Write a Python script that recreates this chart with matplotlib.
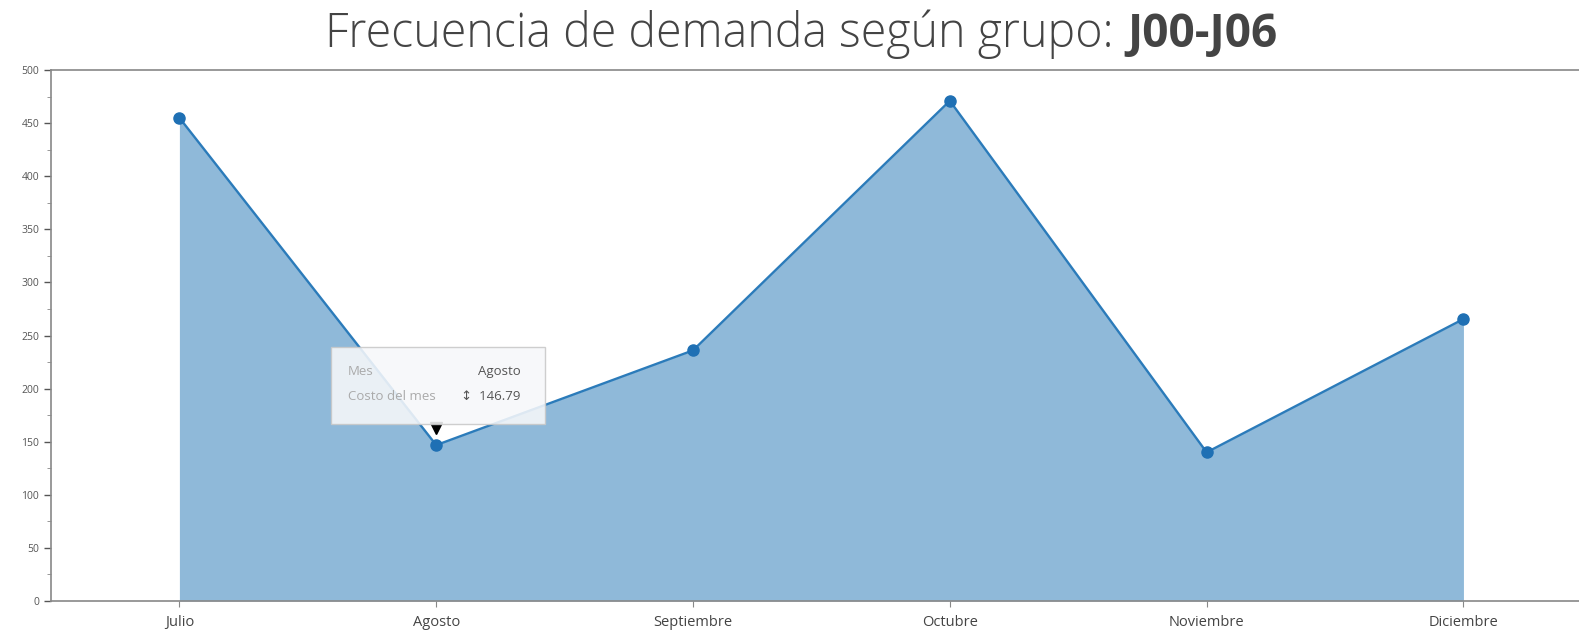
import numpy as np
import matplotlib
matplotlib.use("Agg")
from matplotlib import pyplot as plt
from matplotlib.ticker import MultipleLocator

# data
meses = ["Julio", "Agosto", "Septiembre", "Octubre", "Noviembre", "Diciembre"]
costos = [455, 146.79, 236, 471, 140, 265.5]
tooltip_mes = "Agosto"
tooltip_valor = "146.79"

plt.rcParams['font.family'] = ['Open Sans', 'DejaVu Sans']

W, H = 1579, 633
fig = plt.figure(figsize=(W / 100, H / 100), dpi=100)
ax = fig.add_axes([51 / W, 1 - 601 / H, 1 - 51 / W, (601 - 70) / H])

x = np.arange(len(meses))
ax.fill_between(x, costos, 0, color="#8fb9d9", lw=0)
ax.plot(x, costos, color="#2b7bba", lw=1.7, marker="o", ms=8,
        markerfacecolor="#1f70b4", markeredgecolor="#1f70b4", zorder=3)

ax.set_xlim(-0.5, 5.45)
ax.set_ylim(0, 500)
ax.set_xticks(x)
ax.set_xticklabels(meses, fontsize=10.5, color="#444444")
ax.yaxis.set_major_locator(MultipleLocator(50))
ax.yaxis.set_minor_locator(MultipleLocator(25))
ax.tick_params(axis="y", labelsize=7.5, colors="#555555", length=5, width=1)
ax.tick_params(axis="y", which="minor", length=3, color="#888888")
ax.tick_params(axis="x", length=4, color="#888888", pad=6)
for s in ["left", "bottom", "top"]:
    ax.spines[s].set_color("#888888")
    ax.spines[s].set_linewidth(1.2)
ax.spines["right"].set_visible(False)

# tooltip over Agosto
box = plt.Rectangle((0.59, 167), 0.835, 72, facecolor="#f7f8fa", alpha=0.88,
                    edgecolor="#c8c8c8", lw=1, zorder=4)
ax.add_patch(box)
ax.plot([1], [163], marker="v", ms=8, color="black", zorder=3.5)
kw = dict(fontsize=9.5, va="center", zorder=5)
ax.text(0.655, 216, "Mes", color="#aaaaaa", ha="left", **kw)
ax.text(1.33, 216, tooltip_mes, color="#555555", ha="right", **kw)
ax.text(0.655, 193, "Costo del mes", color="#aaaaaa", ha="left", **kw)
ax.text(1.33, 193, "\u2195  " + tooltip_valor, color="#555555", ha="right", **kw)

# title in two weights
ty = 1 - 47 / H
fig.text(1114 / W, ty, "Frecuencia de demanda según grupo:", fontsize=33.5,
         fontweight="light", color="#444444", ha="right", va="baseline")
fig.text(1127 / W, ty, "J00-J06", fontsize=33, fontweight="bold",
         color="#444444", ha="left", va="baseline")

fig.savefig("out.png", dpi=100)
